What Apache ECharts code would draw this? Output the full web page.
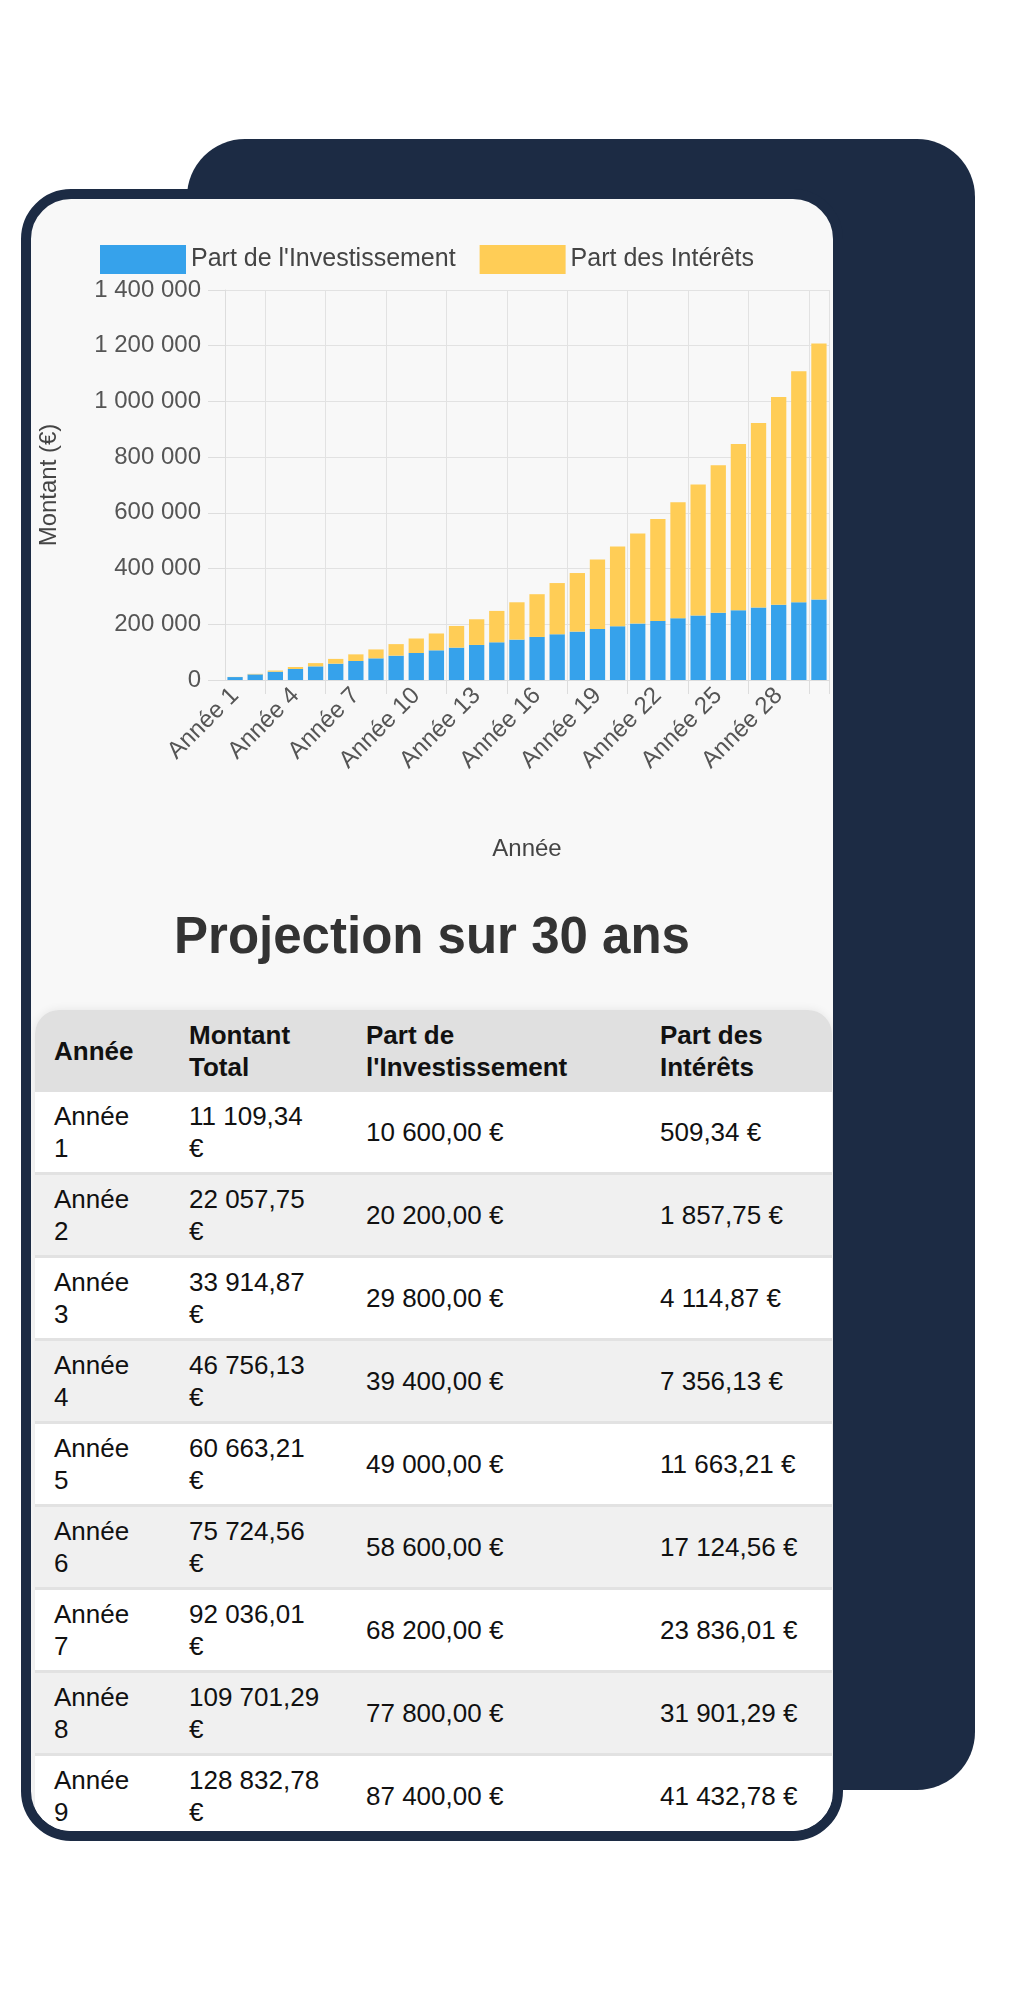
<!DOCTYPE html>
<html><head><meta charset="utf-8">
<script src="https://cdn.jsdelivr.net/npm/echarts@6/dist/echarts.min.js"></script>
<style>
body{margin:0;width:1010px;height:2000px;background:#fff;position:relative;font-family:"Liberation Sans",Arial,sans-serif;overflow:hidden}
#back{position:absolute;left:187px;top:139px;width:788px;height:1651px;background:#1c2b44;border-radius:58px}
#front{position:absolute;left:21px;top:189px;width:802px;height:1632px;background:#f8f8f8;border:10px solid #1c2b44;border-radius:50px;overflow:hidden}
#chart{position:absolute;left:0;top:0;width:1010px;height:1120px}
#title{position:absolute;left:21px;width:822px;top:906px;text-align:center;font-weight:bold;font-size:51px;color:#333}
#tbl{position:absolute;left:4px;top:811px;width:797px;border-collapse:collapse;font-size:26px;color:#111;border-radius:24px 24px 0 0;overflow:hidden;box-shadow:0 0 10px rgba(0,0,0,0.08)}
#tbl th{background:#e0e0e0;text-align:left;font-weight:bold;height:82px;padding:0 0 0 19px;line-height:32px}
#tbl td{height:80px;padding:0 0 0 19px;line-height:32px;border-bottom:3px solid #e2e2e2}
#tbl tr:nth-child(odd) td{background:#fff}
#tbl tr:nth-child(even) td{background:#f0f0f0}
</style></head><body>
<div id="back"></div>
<div id="front">
<table id="tbl"><thead><tr><th style="width:116px">Année</th><th style="width:158px">Montant<br>Total</th><th style="width:275px">Part de<br>l'Investissement</th><th>Part des<br>Intérêts</th></tr></thead><tbody id="tb"></tbody></table>
</div>
<div id="title">Projection sur 30 ans</div>
<div id="chart"></div>
<script>
const categories = Array.from({length:30},(_, i)=>'Année '+(i+1));
const investment = [10600,20200,29800,39400,49000,58600,68200,77800,87400,97000,106600,116200,125800,135400,145000,154600,164200,173800,183400,193000,202600,212200,221800,231400,241000,250600,260200,269800,279400,289000];
const interest = [509.34,1857.75,4114.87,7356.13,11663.21,17124.56,23836.01,31901.29,41432.78,52000,60400,77800,92200,112600,134000,153400,183800,210200,249600,286000,323400,365800,416200,470600,530000,596400,662800,746200,828600,919000];
const tableTotals = [11109.34,22057.75,33914.87,46756.13,60663.21,75724.56,92036.01,109701.29,128832.78];
const yTicks = [0,200000,400000,600000,800000,1000000,1200000,1400000];

function grp(n){return String(n).replace(/\B(?=(\d{3})+(?!\d))/g,' ');}
function money(v){const p=v.toFixed(2).split('.');return grp(p[0])+','+p[1]+' €';}
let html='';
for(let i=0;i<tableTotals.length;i++){
  html+='<tr><td>Année<br>'+(i+1)+'</td><td>'+money(tableTotals[i]).replace(' €','<br>€')+'</td><td>'+money(investment[i])+'</td><td>'+money(interest[i])+'</td></tr>';
}
document.getElementById('tb').innerHTML=html;

const chart = echarts.init(document.getElementById('chart'));
const lab = {fontFamily:'Liberation Sans',fontSize:24,color:'#555'};
chart.setOption({
  animation:false,
  legend:{left:95,top:240,itemWidth:86,itemHeight:29,itemGap:24,textStyle:{fontFamily:'Liberation Sans',fontSize:25,color:'#444'},icon:'rect',
    data:['Part de l\'Investissement','Part des Intérêts']},
  grid:{left:225,right:181,top:290,bottom:1120-680},
  xAxis:{type:'category',data:categories,boundaryGap:true,
    name:'Année',nameLocation:'middle',nameGap:157,nameTextStyle:{fontFamily:'Liberation Sans',fontSize:24,color:'#444'},
    axisLine:{lineStyle:{color:'#ddd'}},
    axisTick:{show:true,length:14,interval:(i)=>i%3===2,lineStyle:{color:'#ddd'}},
    splitLine:{show:true,interval:(i)=>i%3===2,lineStyle:{color:'#e2e2e2'}},
    axisLabel:Object.assign({rotate:45,interval:2,margin:12},lab)},
  yAxis:{type:'value',min:0,max:1400000,interval:200000,
    name:'Montant (€)',nameLocation:'middle',nameGap:164,nameTextStyle:{fontFamily:'Liberation Sans',fontSize:24,color:'#444'},
    axisLine:{show:true,lineStyle:{color:'#ddd'}},axisTick:{show:true,length:17,lineStyle:{color:'#ddd'}},
    splitLine:{lineStyle:{color:'#e2e2e2'}},
    axisLabel:Object.assign({margin:24,formatter:(v)=>grp(v)},lab)},
  series:[
    {name:'Part de l\'Investissement',type:'bar',stack:'a',data:investment,barWidth:'76%',itemStyle:{color:'#36a2eb'}},
    {name:'Part des Intérêts',type:'bar',stack:'a',data:interest,itemStyle:{color:'#ffcd56'}}
  ]
});
</script>
</body></html>
